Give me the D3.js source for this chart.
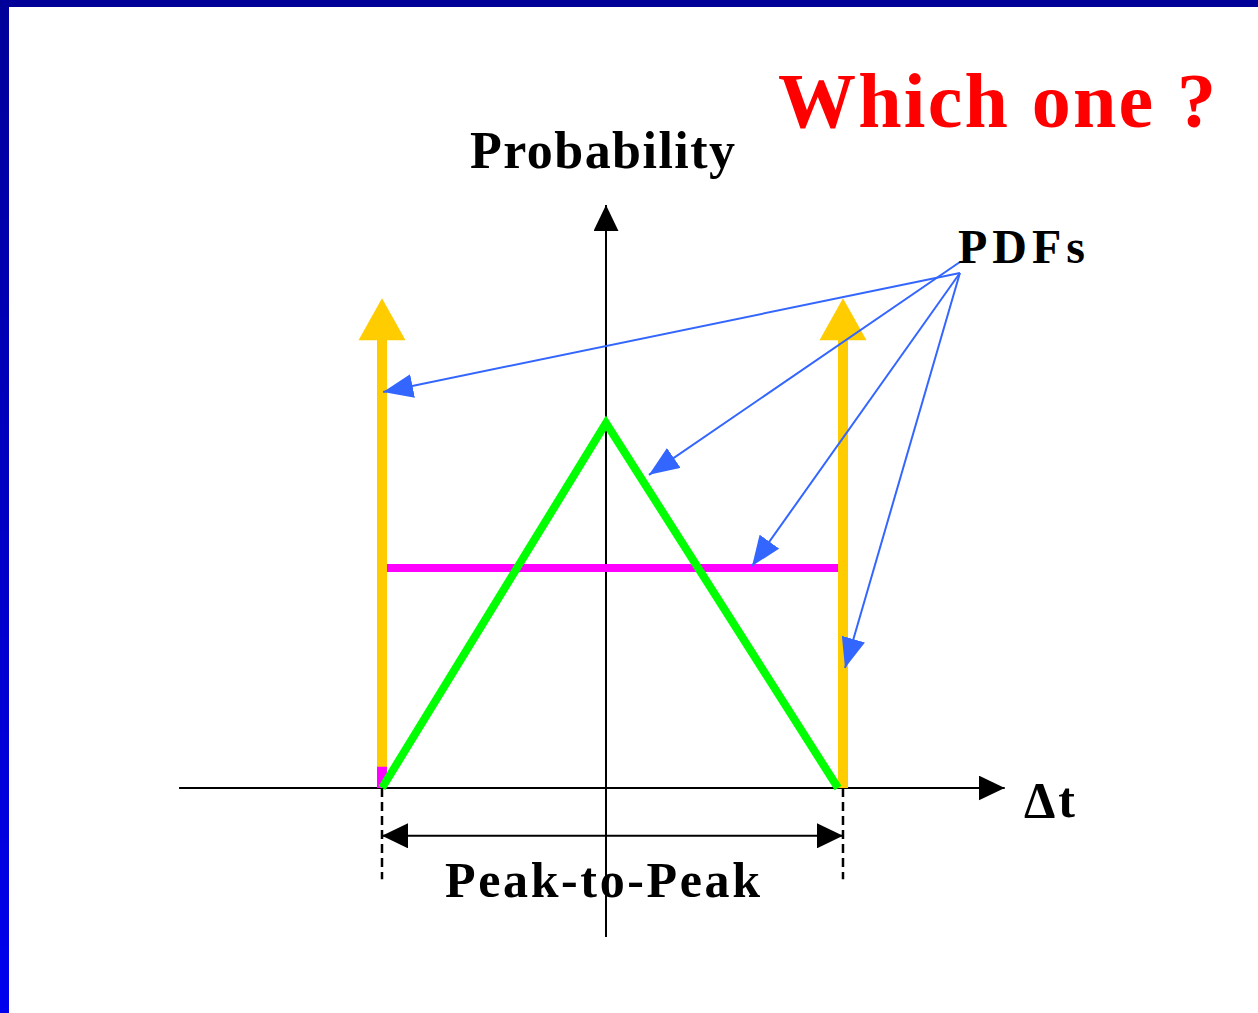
<!DOCTYPE html>
<html>
<head>
<meta charset="utf-8">
<script src="https://cdn.jsdelivr.net/npm/d3@7"></script>
<style>
  html, body { margin: 0; padding: 0; background: #fff; }
  svg { display: block; }
</style>
</head>
<body>
<div id="chart-area"></div>
<script>
(() => {

  const widthSvg = 1258;
  const heightSvg = 1013;

  // pdf shapes, in delta-t units (x) and probability units (y)
  const impulseX = [-1, 1.058];
  const impulseBase = [0.058, 0];
  const impulseHeight = 1.342;
  const triangleX = [-1, 0, 1.036];
  const triangleY = [0, 1, 0];
  const uniformX = [-1, 1.036];
  const uniformY = 0.603;

  // axis extents
  const axisXExtent = [-1.906, 1.78];
  const axisYExtent = [-0.408, 1.597];

  // pointer arrows from the PDFs label to each curve
  const pointerFrom = [[1.58, 1.411], [1.58, 1.441], [1.58, 1.411], [1.58, 1.411]];
  const pointerTo = [[-0.995, 1.085], [0.192, 0.858], [0.652, 0.608], [1.067, 0.329]];

  const labels = ['Probability', 'Which one ?', 'PDFs', '\u0394t', 'Peak-to-Peak'];

  const scaleX = d3.scaleLinear()
    .domain([-1, 0])
    .range([382, 606]);

  const scaleY = d3.scaleLinear()
    .domain([0, 1])
    .range([788, 423]);

  const svg = d3.select('#chart-area')
    .append('svg')
      .attr('width', widthSvg)
      .attr('height', heightSvg);

  const defs = svg.append('defs');

  const grad = defs.append('linearGradient')
    .attr('id', 'edge')
    .attr('x1', 0).attr('y1', 0)
    .attr('x2', 0).attr('y2', 1);
  grad.append('stop').attr('offset', '0%').attr('stop-color', '#000099');
  grad.append('stop').attr('offset', '100%').attr('stop-color', '#0000ee');

  // slide border
  svg.append('rect')
    .attr('width', widthSvg)
    .attr('height', 7)
    .attr('fill', '#000099');
  svg.append('rect')
    .attr('width', 9)
    .attr('height', heightSvg)
    .attr('fill', 'url(#edge)');

  const arrowHead = (id, color, len, half) => {
    defs.append('marker')
      .attr('id', id)
      .attr('markerUnits', 'userSpaceOnUse')
      .attr('viewBox', `0 ${-half} ${len} ${half * 2}`)
      .attr('refX', len)
      .attr('refY', 0)
      .attr('markerWidth', len)
      .attr('markerHeight', half * 2)
      .attr('orient', 'auto-start-reverse')
      .append('path')
        .attr('d', `M0,${-half}L${len},0L0,${half}Z`)
        .attr('fill', color);
  };

  arrowHead('head-black', '#000', 26, 12.5);
  arrowHead('head-blue', '#3366ff', 30, 12);

  const line = d3.line()
    .x(d => scaleX(d[0]))
    .y(d => scaleY(d[1]));

  // axes
  svg.append('path')
    .attr('d', line([[axisXExtent[0], 0], [axisXExtent[1], 0]]))
    .attr('stroke', '#000')
    .attr('stroke-width', 2)
    .attr('fill', 'none')
    .attr('marker-end', 'url(#head-black)');

  svg.append('path')
    .attr('d', line([[0, axisYExtent[0]], [0, axisYExtent[1]]]))
    .attr('stroke', '#000')
    .attr('stroke-width', 2)
    .attr('fill', 'none')
    .attr('marker-end', 'url(#head-black)');

  // uniform pdf
  svg.append('path')
    .attr('d', line([[uniformX[0], 0], [uniformX[0], impulseBase[0] + 0.01]]))
    .attr('stroke', '#ff00ff')
    .attr('stroke-width', 10);

  svg.append('path')
    .attr('d', line([[uniformX[0] + 0.022, uniformY], [uniformX[1], uniformY]]))
    .attr('stroke', '#ff00ff')
    .attr('stroke-width', 8);

  // dual-dirac impulses
  impulseX.forEach((x, i) => {
    const cx = scaleX(x);
    const top = scaleY(impulseHeight);
    svg.append('path')
      .attr('d', line([[x, impulseBase[i]], [x, impulseHeight - 0.114]]))
      .attr('stroke', '#ffcc00')
      .attr('stroke-width', 10);
    svg.append('path')
      .attr('d', `M${cx},${top}L${cx + 23.5},${top + 42}L${cx - 23.5},${top + 42}Z`)
      .attr('fill', '#ffcc00');
  });

  // triangular pdf
  svg.append('path')
    .attr('d', line(triangleX.map((x, i) => [x, triangleY[i]])))
    .attr('stroke', '#00ff00')
    .attr('stroke-width', 8)
    .attr('stroke-linejoin', 'miter')
    .attr('fill', 'none');

  // peak-to-peak markers
  impulseX.forEach(x => {
    svg.append('path')
      .attr('d', line([[x, 0], [x, -0.25]]))
      .attr('stroke', '#000')
      .attr('stroke-width', 2.5)
      .attr('stroke-dasharray', '9,5');
  });

  svg.append('path')
    .attr('d', line([[impulseX[0], -0.131], [impulseX[1], -0.131]]))
    .attr('stroke', '#000')
    .attr('stroke-width', 2)
    .attr('marker-start', 'url(#head-black)')
    .attr('marker-end', 'url(#head-black)');

  // pointer arrows
  pointerFrom.forEach((p, i) => {
    svg.append('path')
      .attr('d', line([p, pointerTo[i]]))
      .attr('stroke', '#3366ff')
      .attr('stroke-width', 2)
      .attr('fill', 'none')
      .attr('marker-end', 'url(#head-blue)');
  });

  // texts
  const font = '"Liberation Serif", "Times New Roman", serif';
  const addText = (t, x, y, size, len, color) => {
    svg.append('text')
      .text(t)
      .attr('x', x)
      .attr('y', y)
      .attr('font-family', font)
      .attr('font-weight', 'bold')
      .attr('font-size', size)
      .attr('fill', color)
      .attr('textLength', len)
      .attr('lengthAdjust', 'spacing');
  };

  addText(labels[0], 470, 168, 52, 265, '#000');
  addText(labels[1], 778, 127, 78, 438, '#ff0000');
  addText(labels[2], 958, 263, 48, 127, '#000');
  addText(labels[3], 1024, 817, 50, 51, '#000');
  addText(labels[4], 445, 897, 50, 315, '#000');

})();
</script>
</body>
</html>
